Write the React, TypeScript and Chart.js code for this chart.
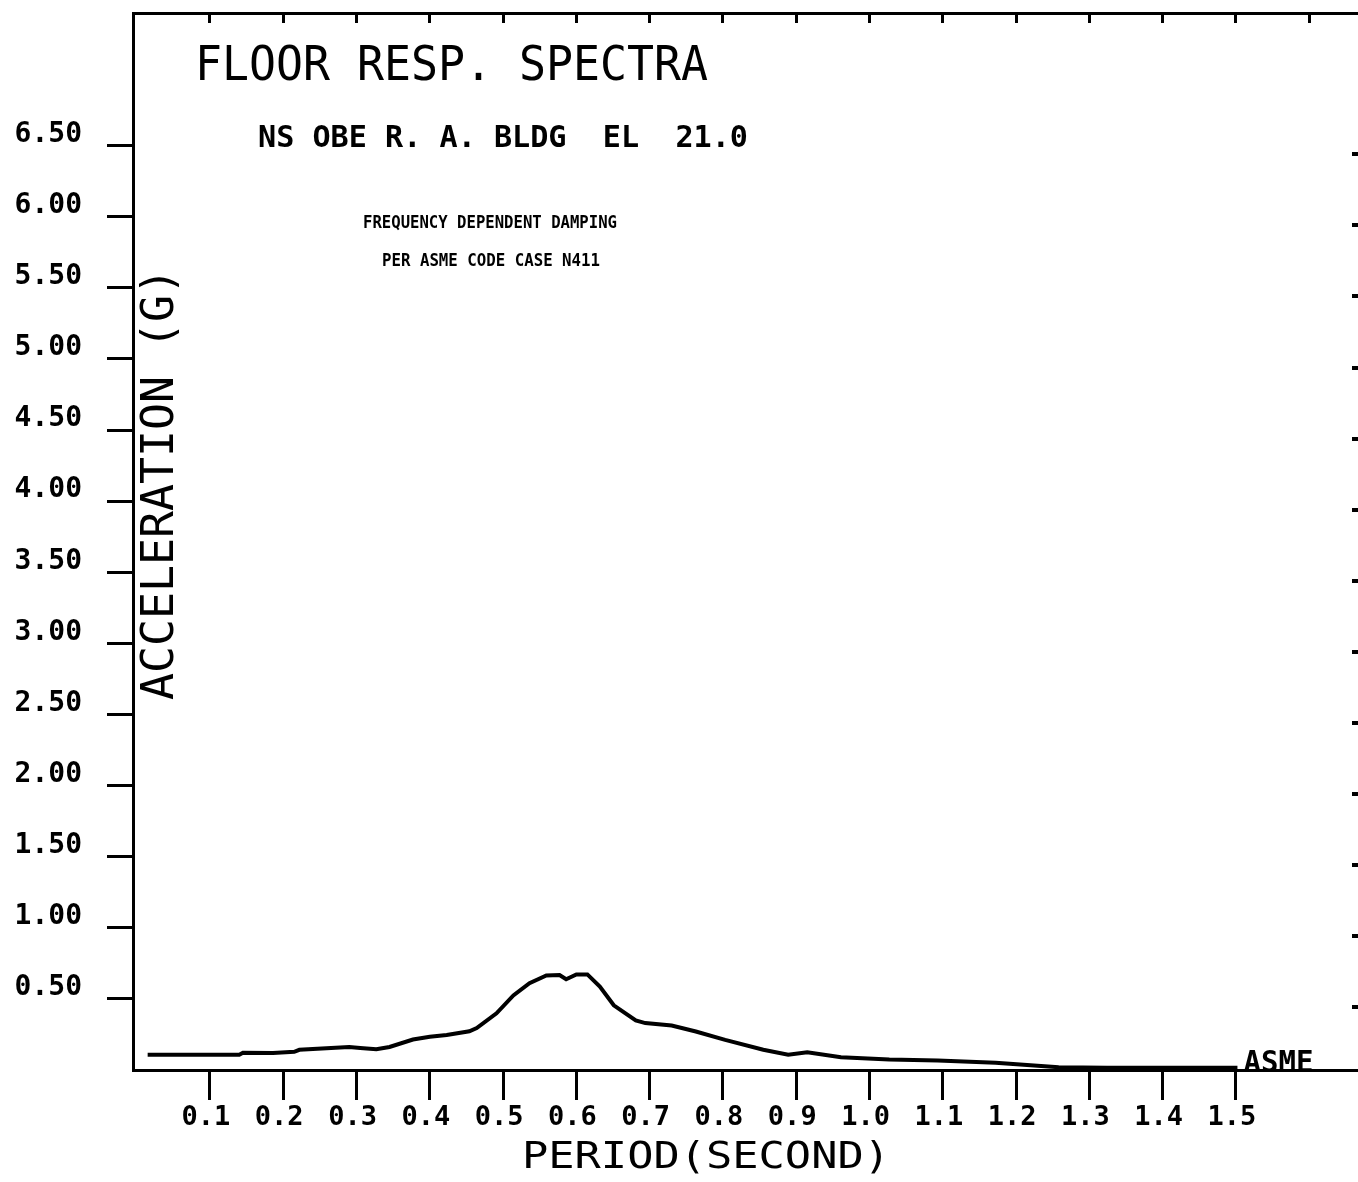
import React, { useEffect, useRef } from "react";
import { Chart, registerables } from "chart.js";

Chart.register(...registerables);

// ---- data ----
const PERIOD = [
  0.015, 0.14, 0.145, 0.186, 0.215, 0.222, 0.29, 0.305, 0.327, 0.345, 0.377, 0.4, 0.423, 0.454, 0.464,
  0.491, 0.514, 0.536, 0.559, 0.577, 0.586, 0.6, 0.615, 0.632, 0.651, 0.681, 0.694, 0.73, 0.763, 0.803,
  0.855, 0.889, 0.915, 0.961, 1.027, 1.093, 1.172, 1.258, 1.324, 1.502,
];
const ACCEL = [
  0.108, 0.108, 0.122, 0.12, 0.128, 0.142, 0.162, 0.155, 0.146, 0.162, 0.214, 0.234, 0.246, 0.272, 0.295,
  0.399, 0.524, 0.61, 0.665, 0.668, 0.638, 0.672, 0.672, 0.586, 0.455, 0.348, 0.33, 0.313, 0.271, 0.212,
  0.142, 0.107, 0.125, 0.09, 0.074, 0.067, 0.051, 0.02, 0.015, 0.015,
];
const X_TICKS = [0.1, 0.2, 0.3, 0.4, 0.5, 0.6, 0.7, 0.8, 0.9, 1.0, 1.1, 1.2, 1.3, 1.4, 1.5];
const X_TOP_TICKS = [0.1, 0.2, 0.3, 0.4, 0.5, 0.6, 0.7, 0.8, 0.9, 1.0, 1.1, 1.2, 1.3, 1.4, 1.5, 1.6];
const Y_TICKS = [0.5, 1.0, 1.5, 2.0, 2.5, 3.0, 3.5, 4.0, 4.5, 5.0, 5.5, 6.0, 6.5];
const X_MIN = -0.005;
const X_MAX = 1.6665;
const Y_MIN = 0;
const Y_MAX = 7.433;
const RIGHT_SKEW = 0.06;

const TITLE = "FLOOR RESP. SPECTRA";
const SUBTITLE = "NS OBE R. A. BLDG  EL  21.0";
const NOTE1 = "FREQUENCY DEPENDENT DAMPING";
const NOTE2 = "PER ASME CODE CASE N411";
const Y_TITLE = "ACCELERATION (G)";
const X_TITLE = "PERIOD(SECOND)";
const SERIES_LABEL = "ASME";

const MONO = "'DejaVu Sans Mono', monospace";

function fitText(ctx: CanvasRenderingContext2D, text: string, x: number, y: number, font: string, width: number, rot = 0) {
  ctx.save();
  ctx.font = font;
  ctx.fillStyle = "#000";
  ctx.textAlign = "left";
  ctx.textBaseline = "alphabetic";
  const w = ctx.measureText(text).width;
  ctx.translate(x, y);
  if (rot) ctx.rotate(rot);
  ctx.scale(width / w, 1);
  ctx.fillText(text, 0, 0);
  ctx.restore();
}

function noPad(axis: any) {
  axis.paddingTop = 0;
  axis.paddingBottom = 0;
  axis.paddingLeft = 0;
  axis.paddingRight = 0;
}

const textPlugin = {
  id: "texts",
  beforeDraw(chart: any) {
    const ctx = chart.ctx;
    ctx.save();
    ctx.fillStyle = "#fff";
    ctx.fillRect(0, 0, chart.width, chart.height);
    ctx.restore();
  },
  afterDraw(chart: any) {
    const ctx = chart.ctx as CanvasRenderingContext2D;
    fitText(ctx, TITLE, 195, 80, `normal 48px ${MONO}`, 513);
    fitText(ctx, SUBTITLE, 258, 147, `bold 30px ${MONO}`, 490);
    fitText(ctx, NOTE1, 363, 228, `bold 18px ${MONO}`, 254);
    fitText(ctx, NOTE2, 382, 266, `bold 18px ${MONO}`, 218);
    fitText(ctx, Y_TITLE, 173, 700, `normal 44px ${MONO}`, 432, -Math.PI / 2);
    fitText(ctx, X_TITLE, 522, 1168, `normal 38px ${MONO}`, 368);
    const xs = chart.scales.x;
    const ys = chart.scales.y;
    const lx = xs.getPixelForValue(PERIOD[PERIOD.length - 1]);
    const ly = ys.getPixelForValue(ACCEL[ACCEL.length - 1]);
    fitText(ctx, SERIES_LABEL, lx + 6, ly + 4, `bold 30px ${MONO}`, 70);
  },
};

export default function App() {
  const ref = useRef<HTMLCanvasElement | null>(null);
  useEffect(() => {
    if (!ref.current) return;
    const data = PERIOD.map((p, i) => ({ x: p, y: ACCEL[i] }));
    const chart = new Chart(ref.current, {
      type: "line",
      data: {
        datasets: [
          {
            label: SERIES_LABEL,
            data,
            borderColor: "#000",
            borderWidth: 4,
            pointRadius: 0,
            tension: 0,
            fill: false,
            xAxisID: "x",
            yAxisID: "y",
          },
        ],
      },
      options: {
        responsive: false,
        animation: false,
        devicePixelRatio: 1,
        events: [],
        layout: { padding: 0 },
        plugins: { legend: { display: false }, tooltip: { enabled: false }, title: { display: false } },
        scales: {
          x: {
            type: "linear",
            position: "bottom",
            min: X_MIN,
            max: X_MAX,
            afterBuildTicks: (axis: any) => {
              axis.ticks = X_TICKS.map((v) => ({ value: v }));
            },
            afterFit: (axis: any) => {
              axis.height = 112;
              noPad(axis);
            },
            border: { display: true, color: "#000", width: 3 },
            grid: { drawOnChartArea: false, drawTicks: true, tickLength: 30, lineWidth: 3, color: "#000" },
            ticks: {
              color: "#000",
              font: { family: MONO, size: 27, weight: "bold" },
              padding: 2,
              labelOffset: -4,
              autoSkip: false,
              maxRotation: 0,
              callback: (v: any) => Number(v).toFixed(1),
            },
          },
          xTop: {
            type: "linear",
            position: "top",
            min: X_MIN,
            max: X_MAX,
            afterBuildTicks: (axis: any) => {
              axis.ticks = X_TOP_TICKS.map((v) => ({ value: v }));
            },
            afterFit: (axis: any) => {
              axis.height = 13;
              noPad(axis);
            },
            border: { display: true, color: "#000", width: 3 },
            grid: { drawOnChartArea: false, drawTicks: true, tickLength: -10, lineWidth: 3, color: "#000" },
            ticks: { display: false },
          },
          y: {
            type: "linear",
            position: "left",
            min: Y_MIN,
            max: Y_MAX,
            afterBuildTicks: (axis: any) => {
              axis.ticks = Y_TICKS.map((v) => ({ value: v }));
            },
            afterFit: (axis: any) => {
              axis.width = 133;
              noPad(axis);
            },
            border: { display: true, color: "#000", width: 3 },
            grid: { drawOnChartArea: false, drawTicks: true, tickLength: 26, lineWidth: 3, color: "#000" },
            ticks: {
              color: "#000",
              font: { family: MONO, size: 28, weight: "bold" },
              padding: 25,
              labelOffset: -11,
              autoSkip: false,
              callback: (v: any) => Number(v).toFixed(2),
            },
          },
          yRight: {
            type: "linear",
            position: "right",
            min: Y_MIN + RIGHT_SKEW,
            max: Y_MAX + RIGHT_SKEW,
            afterBuildTicks: (axis: any) => {
              axis.ticks = Y_TICKS.map((v) => ({ value: v }));
            },
            afterFit: (axis: any) => {
              axis.width = 0;
              noPad(axis);
            },
            border: { display: false },
            grid: { drawOnChartArea: false, drawTicks: true, tickLength: -6, lineWidth: 4, color: "#000" },
            ticks: { display: false },
          },
        },
      } as any,
      plugins: [textPlugin],
    });
    return () => chart.destroy();
  }, []);
  return (
    <div style={{ position: "absolute", left: 0, top: 0, width: 1358, height: 1182, background: "#fff" }}>
      <canvas ref={ref} width={1358} height={1182} style={{ display: "block", width: 1358, height: 1182 }} />
    </div>
  );
}
